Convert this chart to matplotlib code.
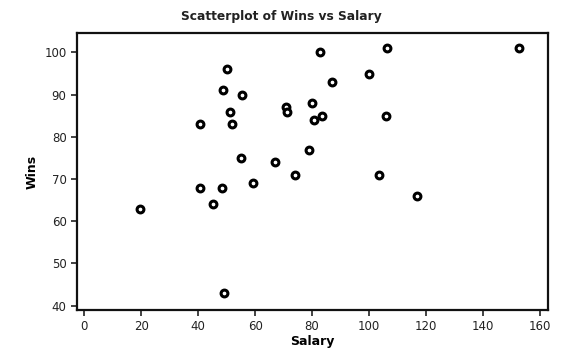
import matplotlib.pyplot as plt

# Salary (millions) and wins
salary = [19.6, 40.7, 40.6, 45.4, 48.3, 48.7, 49.0, 50.1, 51.3, 52.0,
          55.0, 55.5, 59.3, 67.0, 70.9, 71.1, 73.9, 79.1, 79.9, 80.6,
          82.8, 83.6, 86.9, 100.0, 103.6, 105.8, 106.3, 117.0, 152.8]
wins = [63, 83, 68, 64, 68, 91, 43, 96, 86, 83,
        75, 90, 69, 74, 87, 86, 71, 77, 88, 84,
        100, 85, 93, 95, 71, 85, 101, 66, 101]

x_ticks = [0, 20, 40, 60, 80, 100, 120, 140, 160]
y_ticks = [40, 50, 60, 70, 80, 90, 100]

plt.rcParams['font.family'] = ['DejaVu Sans']
fig = plt.figure(figsize=(5.62, 3.51), dpi=100)
ax = fig.add_axes([0.137, 0.117, 0.838, 0.789])

ax.scatter(salary, wins, s=24, facecolors='white', edgecolors='black',
           linewidths=2.2, zorder=3)

ax.set_xlim(-2.5, 162.8)
ax.set_ylim(39.0, 104.6)
ax.set_xticks(x_ticks)
ax.set_yticks(y_ticks)
ax.tick_params(direction='out', length=4, width=1.2, labelsize=8.5,
               colors='#222222')
for s in ax.spines.values():
    s.set_linewidth(1.6)
    s.set_color('#111111')

# Minitab centres the title on the page, not the axes
fig.text(0.5, 0.935, "Scatterplot of Wins vs Salary", ha='center',
         va='bottom', fontsize=8.8, fontweight='bold', color='#222222')
ax.set_xlabel("Salary", fontsize=9, fontweight='bold', labelpad=1)
ax.set_ylabel("Wins", fontsize=9, fontweight='bold', labelpad=4)

fig.savefig("out.png", dpi=100)
